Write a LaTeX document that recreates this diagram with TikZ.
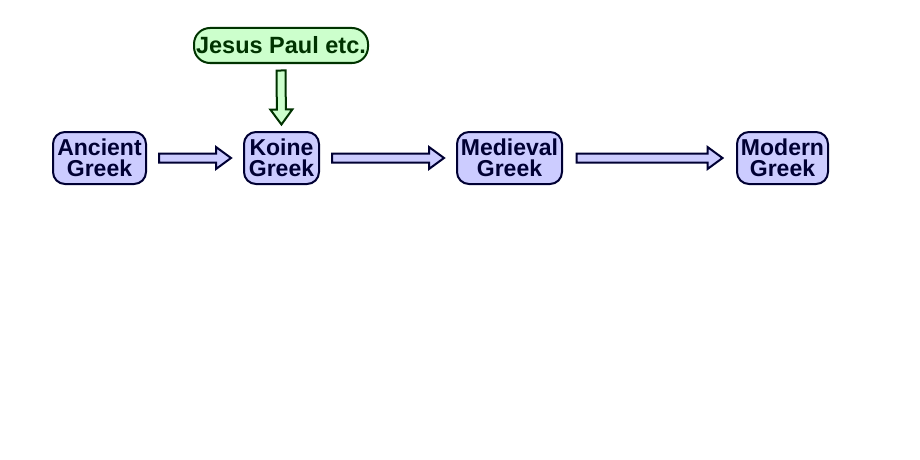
\documentclass[tikz,border=0pt]{standalone}
\usepackage{fontspec}
\setmainfont{Liberation Sans}
\usetikzlibrary{calc}
\definecolor{lav}{HTML}{CCCCFF}
\definecolor{navy}{HTML}{000033}
\definecolor{mint}{HTML}{CCFFCC}
\definecolor{dgreen}{HTML}{003300}
\tikzset{
  stage/.style={draw=navy, fill=lav, text=navy, line width=2pt, rounded corners=12pt,
    align=center, inner sep=0pt, minimum height=52pt,
    font=\fontsize{23}{21}\selectfont\bfseries},
  source/.style={draw=dgreen, fill=mint, text=dgreen, line width=2pt, rounded corners=16pt,
    align=center, inner sep=0pt, minimum height=35pt,
    font=\fontsize{23.5}{22}\selectfont\bfseries},
  fatarrow/.style={line width=2pt, line join=miter, to path={
    let \p1=($(\tikztostart)!#1!(\tikztotarget)$),
        \p2=($(\tikztotarget)!#1!(\tikztostart)$),
        \p3=($(\p2)!15pt!(\p1)$) in
    ($(\p1)!4.5pt!90:(\p2)$) -- ($(\p3)!4.5pt!90:(\p2)$) -- ($(\p3)!11pt!90:(\p2)$)
    -- (\p2) -- ($(\p3)!11pt!-90:(\p2)$) -- ($(\p3)!4.5pt!-90:(\p2)$)
    -- ($(\p1)!4.5pt!-90:(\p2)$) -- cycle}},
  stagearrow/.style={fatarrow=#1, draw=navy, fill=lav},
  sourcearrow/.style={fatarrow=#1, draw=dgreen, fill=mint}
}
\begin{document}
\begin{tikzpicture}[x=1pt, y=-1pt]
\useasboundingbox (0,0) rectangle (920,460);
\node[stage, minimum width=93pt] (anc) at (99.5,158) {Ancient\\Greek};
\node[stage, minimum width=75pt] (koi) at (281.5,158) {Koine\\Greek};
\node[stage, minimum width=105pt] (med) at (509.5,158) {Medieval\\Greek};
\node[stage, minimum width=91pt] (mod) at (782.5,158) {Modern\\Greek};
\node[source, minimum width=174pt] (jes) at (281,45.5) {Jesus Paul etc.};
\draw[stagearrow=12pt] (anc.east) to (koi.west);
\draw[stagearrow=12pt] (koi.east) to (med.west);
\draw[stagearrow=13.5pt] (med.east) to (mod.west);
\draw[sourcearrow=6.5pt] (jes.south) to (koi.north);
\end{tikzpicture}
\end{document}
